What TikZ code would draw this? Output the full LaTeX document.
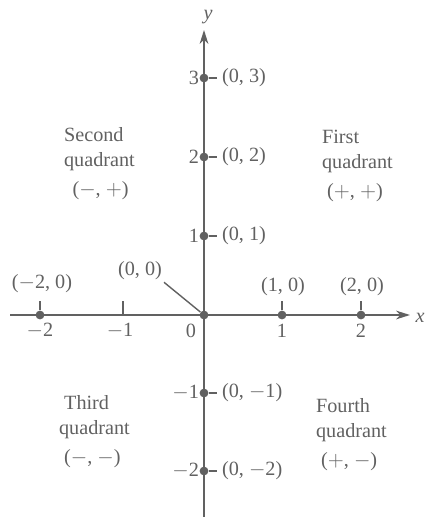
\documentclass[tikz,border=0pt]{standalone}
\usepackage{fontspec}
\setmainfont{Liberation Serif}
\usetikzlibrary{arrows.meta}
\definecolor{ink}{gray}{0.38}
\begin{document}
\begin{tikzpicture}[x=0.02cm,y=-0.02cm,
  every node/.style={text=ink,font=\fontsize{11.5}{14.5}\selectfont,inner sep=1pt},
  axis/.style={draw=ink,line width=1pt},
  dot/.style={circle,fill=ink,minimum size=5pt,inner sep=0pt},
  tick/.style={draw=ink,line width=0.9pt},
  quad/.style={align=left,anchor=north west}]
\useasboundingbox (0,0) rectangle (424,517);
% axes
\coordinate (xl) at (10,315);
\coordinate (xr) at (410,315);
\coordinate (yb) at (204,517);
\coordinate (yt) at (204,30);
\draw[axis,-{Stealth[length=8pt,width=5pt]}] (xl) -- (xr);
\draw[axis,-{Stealth[length=8pt,width=5pt]}] (yb) -- (yt);
\node (xlab) at (420,318) {\textit{x}};
\node (ylab) at (208,17) {\textit{y}};
% dots on axes
\node[dot] (o) at (204,315) {};
\node[dot] (xm2) at (40,315) {};
\node[dot] (x1) at (282,315) {};
\node[dot] (x2) at (361,315) {};
\node[dot] (y3) at (204,78) {};
\node[dot] (y2) at (204,157) {};
\node[dot] (y1) at (204,236) {};
\node[dot] (ym1) at (204,393) {};
\node[dot] (ym2) at (204,471) {};
\coordinate (xm1) at (123,315);
% ticks on x axis (above)
\foreach \c in {xm2,xm1,x1,x2} \draw[tick] (\c) -- ++(0,-14);
% ticks on y axis (right)
\foreach \c in {y3,y2,y1,ym1,ym2} \draw[tick] (\c) -- ++(13,0);
% x tick labels
\node (lxm2) at (40,331) {$-$2};
\node (lxm1) at (120,331) {$-$1};
\node (lx0) at (191,331) {0};
\node (lx1) at (282,331) {1};
\node (lx2) at (361,331) {2};
% y tick labels
\node[anchor=east] (ly3) at (201,78) {3};
\node[anchor=east] (ly2) at (201,157) {2};
\node[anchor=east] (ly1) at (201,236) {1};
\node[anchor=east] (lym1) at (201,393) {$-$1};
\node[anchor=east] (lym2) at (201,471) {$-$2};
% point labels
\node[anchor=west] (p03) at (220,78) {(0, 3)};
\node[anchor=west] (p02) at (220,157) {(0, 2)};
\node[anchor=west] (p01) at (220,236) {(0, 1)};
\node[anchor=west] (p0m1) at (220,393) {(0, $-$1)};
\node[anchor=west] (p0m2) at (220,471) {(0, $-$2)};
\node (pm20) at (42,284) {($-$2, 0)};
\node (p10) at (283,287) {(1, 0)};
\node (p20) at (362,287) {(2, 0)};
\node (p00) at (140,271) {(0, 0)};
\draw[ink,line width=0.8pt] (p00.south east) -- (o);
% quadrants
\node[quad] (q2) at (62,125) {Second\\quadrant\\[2pt]\ \,($-$, $+$)};
\node[quad] (q1) at (320,128) {First\\quadrant\\[2pt]\ ($+$, $+$)};
\node[quad] (q3) at (57,393) {\ Third\\quadrant\\[2pt]\ ($-$, $-$)};
\node[quad] (q4) at (314,396) {Fourth\\quadrant\\[2pt]\ ($+$, $-$)};
\end{tikzpicture}
\end{document}
